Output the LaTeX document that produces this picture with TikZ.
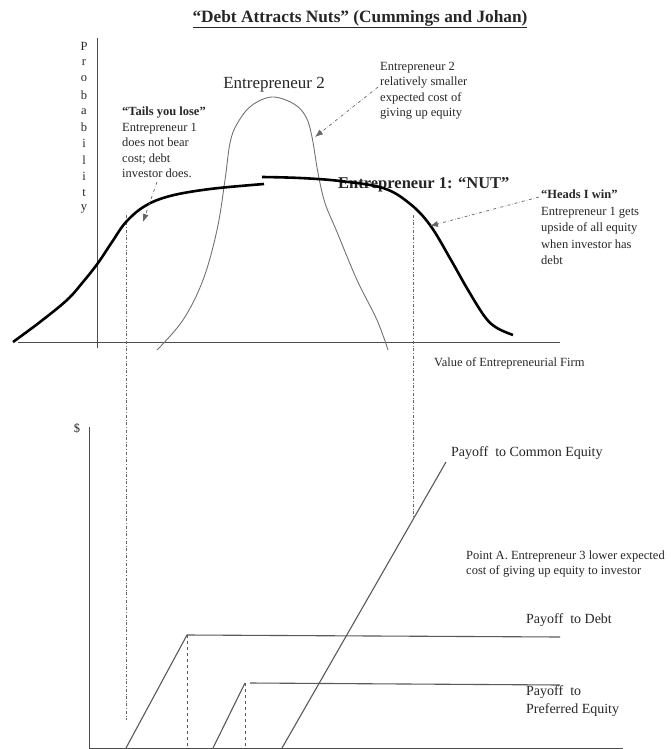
\documentclass[tikz,border=0pt]{standalone}
\usepackage{fontspec}
\setmainfont{Liberation Serif}
\usetikzlibrary{arrows.meta,positioning}

\begin{document}
\begin{tikzpicture}[
        x=1pt, y=-1pt,
        >=Latex,
        axisline/.style={draw=black!70, line width=0.9pt},
        nutcurve/.style={draw=black, line width=2.6pt},
        altcurve/.style={draw=black!55, line width=0.9pt},
        guide/.style={draw=black!60, dash dot, line width=0.7pt},
        drop/.style={draw=black!65, dashed, line width=1pt},
        payoff/.style={draw=black!65, line width=1.1pt},
        pointer/.style={-{Latex[length=8pt,width=6pt]}, draw=black!60, dash dot, line width=0.7pt},
        note/.style={anchor=north west, align=left, inner sep=0pt, text=black!85, font=\fontsize{12.5}{15.5}\selectfont},
        tag/.style={inner sep=0pt, text=black!85}
    ]
        \useasboundingbox (0,0) rectangle (671,749);

        % title
        \node[tag, font=\bfseries\fontsize{17.3}{19}\selectfont] (title) at (360,19) {\underline{“Debt Attracts Nuts” (Cummings and Johan)}};

        % upper chart: axes
        \coordinate (ptop) at (97,38);
        \coordinate (pbot) at (97,348);
        \coordinate (vleft) at (18,342);
        \coordinate (vright) at (560,342);
        \draw[axisline] (ptop) -- (pbot);
        \draw[axisline] (vleft) -- (vright);
        \foreach \ch [count=\i from 0] in {P,r,o,b,a,b,i,l,i,t,y}
            \node[tag, font=\fontsize{12.5}{12.5}\selectfont] (prob\i) at (84,46+16.3*\i) {\ch};
        \node[tag, anchor=west, font=\fontsize{12.5}{14}\selectfont] (valuelbl) at (434,363) {Value of Entrepreneurial Firm};

        % guides down to the payoff chart
        \draw[guide] (126,215) -- (126,720);
        \draw[guide] (413,215) -- (413,519);

        % entrepreneur 2
        \draw[altcurve] plot[smooth, tension=0.6] coordinates {(157,350) (183,320) (203,280) (217,230) (225,180) (230,143) (237,124) (251,106) (272,97) (294,104) (306,117) (312,137) (318,173) (325,203) (337,232) (357,280) (377,320) (388,350)};
        \node[tag, font=\fontsize{17}{19}\selectfont] (ent2lbl) at (274,85) {Entrepreneur 2};

        % entrepreneur 1, the nut
        \node[tag, anchor=west, font=\bfseries\fontsize{16.5}{18}\selectfont] (nutlbl) at (338,185) {Entrepreneur 1: “NUT”};
        \draw[nutcurve] plot[smooth, tension=0.6] coordinates {(13,342) (40,322) (67,300) (83,282) (98,263) (112,242) (126,222) (145,206) (170,196) (210,189) (264,184)};
        \draw[nutcurve] plot[smooth, tension=0.6] coordinates {(262,177) (300,178) (340,181) (383,188) (409,203) (430,225) (451,260) (468,290) (485,317) (497,328) (513,335)};

        % notes
        \node[note] (tailsnote) at (122,107) {\textbf{“Tails you lose”}\\Entrepreneur 1\\does not bear\\cost; debt\\investor does.};
        \node[note] (ent2note) at (380,62) {Entrepreneur 2\\relatively smaller\\expected cost of\\giving up equity};
        \node[note, font=\fontsize{12.5}{16.5}\selectfont] (headsnote) at (541,190) {\textbf{“Heads I win”}\\Entrepreneur 1 gets\\upside of all equity\\when investor has\\debt};

        \coordinate (tailsfrom) at (157,182);
        \coordinate (tailstip) at (143,222);
        \coordinate (ent2from) at (378,87);
        \coordinate (ent2tip) at (315,137);
        \coordinate (headsfrom) at (539,197);
        \coordinate (headstip) at (430,226);
        \draw[pointer] (tailsfrom) -- (tailstip);
        \draw[pointer] (ent2from) -- (ent2tip);
        \draw[pointer] (headsfrom) -- (headstip);

        % lower chart: axes
        \node[tag, font=\fontsize{12.5}{12.5}\selectfont] (dollar) at (77,428) {\$};
        \coordinate (dtop) at (89,427);
        \coordinate (origin) at (89,748);
        \coordinate (dright) at (623,748);
        \draw[axisline] (dtop) -- (origin) -- (dright);

        % payoffs
        \coordinate (debtstart) at (126,748);
        \coordinate (debtkink) at (187,635);
        \coordinate (debtend) at (560,637);
        \coordinate (prefstart) at (213,748);
        \coordinate (prefkink) at (245,683);
        \coordinate (prefflat) at (250,683);
        \coordinate (prefend) at (560,685);
        \coordinate (comstart) at (282,748);
        \coordinate (comend) at (446,462);
        \draw[payoff] (debtstart) -- (debtkink) -- (debtend);
        \draw[payoff] (prefstart) -- (prefkink);
        \draw[payoff] (prefflat) -- (prefend);
        \draw[payoff] (comstart) -- (comend);
        \draw[drop] (debtkink) -- (debtkink |- origin);
        \draw[drop] (prefkink) -- (prefkink |- origin);

        \node[tag, anchor=west, font=\fontsize{14}{16}\selectfont] (comlbl) at (451,453) {Payoff\ \ to Common Equity};
        \node[note, font=\fontsize{12.5}{15}\selectfont] (pointa) at (466,551) {Point A. Entrepreneur 3 lower expected\\cost of giving up equity to investor};
        \node[tag, anchor=west, font=\fontsize{14}{16}\selectfont] (debtlbl) at (526,620) {Payoff\ \ to Debt};
        \node[note, font=\fontsize{14}{18.5}\selectfont] (preflbl) at (526,685) {Payoff\ \ to\\Preferred Equity};
    \end{tikzpicture}
\end{document}
